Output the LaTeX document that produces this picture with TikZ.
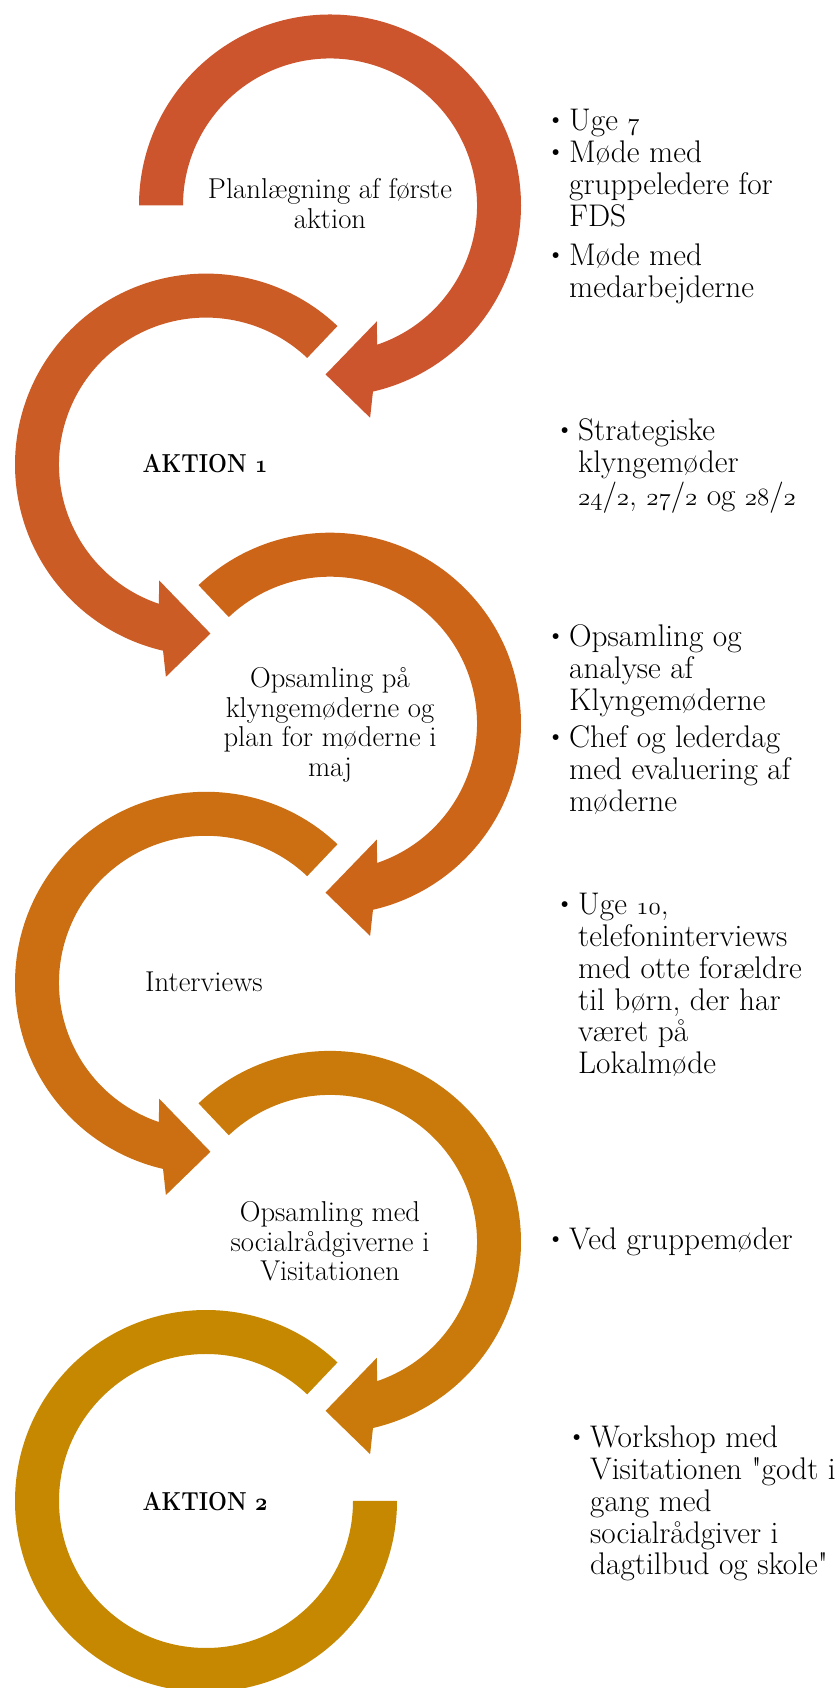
\documentclass[tikz,border=0pt]{standalone}
\usepackage{fontspec}
\setmainfont{Latin Modern Roman}[Ligatures=TeXOff]
\usepackage{graphicx}
\usetikzlibrary{calc}
\definecolor{arA}{RGB}{205,85,46}
\definecolor{arB}{RGB}{204,92,37}
\definecolor{arC}{RGB}{205,101,25}
\definecolor{arD}{RGB}{203,111,18}
\definecolor{arE}{RGB}{201,122,10}
\definecolor{arF}{RGB}{198,136,0}
\newcommand\Ro{191}
\newcommand\Ri{147}
% clockwise circular arrow: #1 centre, #2 start angle, #3 colour
\newcommand\cwarrow[3]{%
  \fill[#3] (#1) ++(#2:\Ro) arc[start angle=#2, end angle=-77, radius=\Ro]
    -- ($(#1)+(-79.3:216)$) -- ($(#1)+(-91.5:169)$) -- ($(#1)+(-68:125)$)
    -- ($(#1)+(-71.3:\Ri)$) arc[start angle=-71.3, end angle=#2, radius=\Ri] -- cycle;}
% counter-clockwise circular arrow
\newcommand\ccwarrow[3]{%
  \fill[#3] (#1) ++(#2:\Ro) arc[start angle=#2, end angle=257, radius=\Ro]
    -- ($(#1)+(259.3:216)$) -- ($(#1)+(271.5:169)$) -- ($(#1)+(248:125)$)
    -- ($(#1)+(251.3:\Ri)$) arc[start angle=251.3, end angle=#2, radius=\Ri] -- cycle;}
\newcommand\bul{\llap{\raisebox{3pt}{\fontsize{26}{26}\selectfont\textbullet}\hspace{4pt}}}
\newcommand\osn[1]{$\mathnormal{#1}$}
\newcommand\bosn[1]{{\boldmath$\mathnormal{#1}$}}
\begin{document}
\begin{tikzpicture}[x=1pt,y=1pt,
  ctext/.style={font=\fontsize{28.7}{29.5}\selectfont, anchor=base, inner sep=0pt},
  btext/.style={font=\fontsize{26}{30}\selectfont\bfseries, anchor=base, inner sep=0pt},
  rtext/.style={font=\fontsize{31.3}{31.7}\selectfont, anchor=base west, inner sep=0pt}]
\fill[white] (0,0) rectangle (839,1688);
\useasboundingbox (0,0) rectangle (839,1688);
\coordinate (c1) at (330,1482.5);
\coordinate (c2) at (206,1223.4);
\coordinate (c3) at (330,964.3);
\coordinate (c4) at (206,705.2);
\coordinate (c5) at (330,446.1);
\coordinate (c6) at (206,187);
% arrows
\cwarrow{c1}{180}{arA}
\ccwarrow{c2}{46.5}{arB}
\cwarrow{c3}{133.5}{arC}
\ccwarrow{c4}{46.5}{arD}
\cwarrow{c5}{133.5}{arE}
\fill[arF] (c6) ++(46.5:\Ro) arc[start angle=46.5, end angle=360, radius=\Ro]
  -- ++(-44,0) arc[start angle=360, end angle=46.5, radius=\Ri] -- cycle;
% circle texts
\node[ctext] (t1) at (330,1489) {\begin{tabular}[t]{@{}c@{}}Planlægning af første\\aktion\end{tabular}};
\node[btext] (t2) at (205,1215) {\scalebox{0.86}[1]{AKTION \bosn{1}}};
\node[ctext] (t3) at (330,1000) {\begin{tabular}[t]{@{}c@{}}Opsamling på\\klyngemøderne og\\plan for møderne i\\maj\end{tabular}};
\node[ctext] (t4) at (204,696) {Interviews};
\node[ctext] (t5) at (330,466) {\begin{tabular}[t]{@{}c@{}}Opsamling med\\socialrådgiverne i\\Visitationen\end{tabular}};
\node[btext] (t6) at (205,177) {\scalebox{0.86}[1]{AKTION \bosn{2}}};
% right texts
\node[rtext] (r1a) at (569,1557) {\bul Uge \osn{7}};
\node[rtext] (r1b) at (569,1525) {\begin{tabular}[t]{@{}l@{}}\bul Møde med\\gruppeledere for\\FDS\end{tabular}};
\node[rtext] (r1c) at (569,1422) {\begin{tabular}[t]{@{}l@{}}\bul Møde med\\medarbejderne\end{tabular}};
\node[rtext] (r2) at (578,1247) {\begin{tabular}[t]{@{}l@{}}\bul Strategiske\\klyngemøder\\\osn{24}/\osn{2}, \osn{27}/\osn{2} og \osn{28}/\osn{2}\end{tabular}};
\node[rtext] (r3a) at (569,1041) {\begin{tabular}[t]{@{}l@{}}\bul Opsamling og\\analyse af\\Klyngemøderne\end{tabular}};
\node[rtext] (r3b) at (569,940) {\begin{tabular}[t]{@{}l@{}}\bul Chef og lederdag\\med evaluering af\\møderne\end{tabular}};
\node[rtext] (r4) at (578,773) {\begin{tabular}[t]{@{}l@{}}\bul Uge \osn{10},\\telefoninterviews\\med otte forældre\\til børn, der har\\været på\\Lokalmøde\end{tabular}};
\node[rtext] (r5) at (569,438) {\bul Ved gruppemøder};
\node[rtext] (r6) at (590,240) {\begin{tabular}[t]{@{}l@{}}\bul Workshop med\\Visitationen "godt i\\gang med\\socialrådgiver i\\dagtilbud og skole"\end{tabular}};
\end{tikzpicture}
\end{document}
